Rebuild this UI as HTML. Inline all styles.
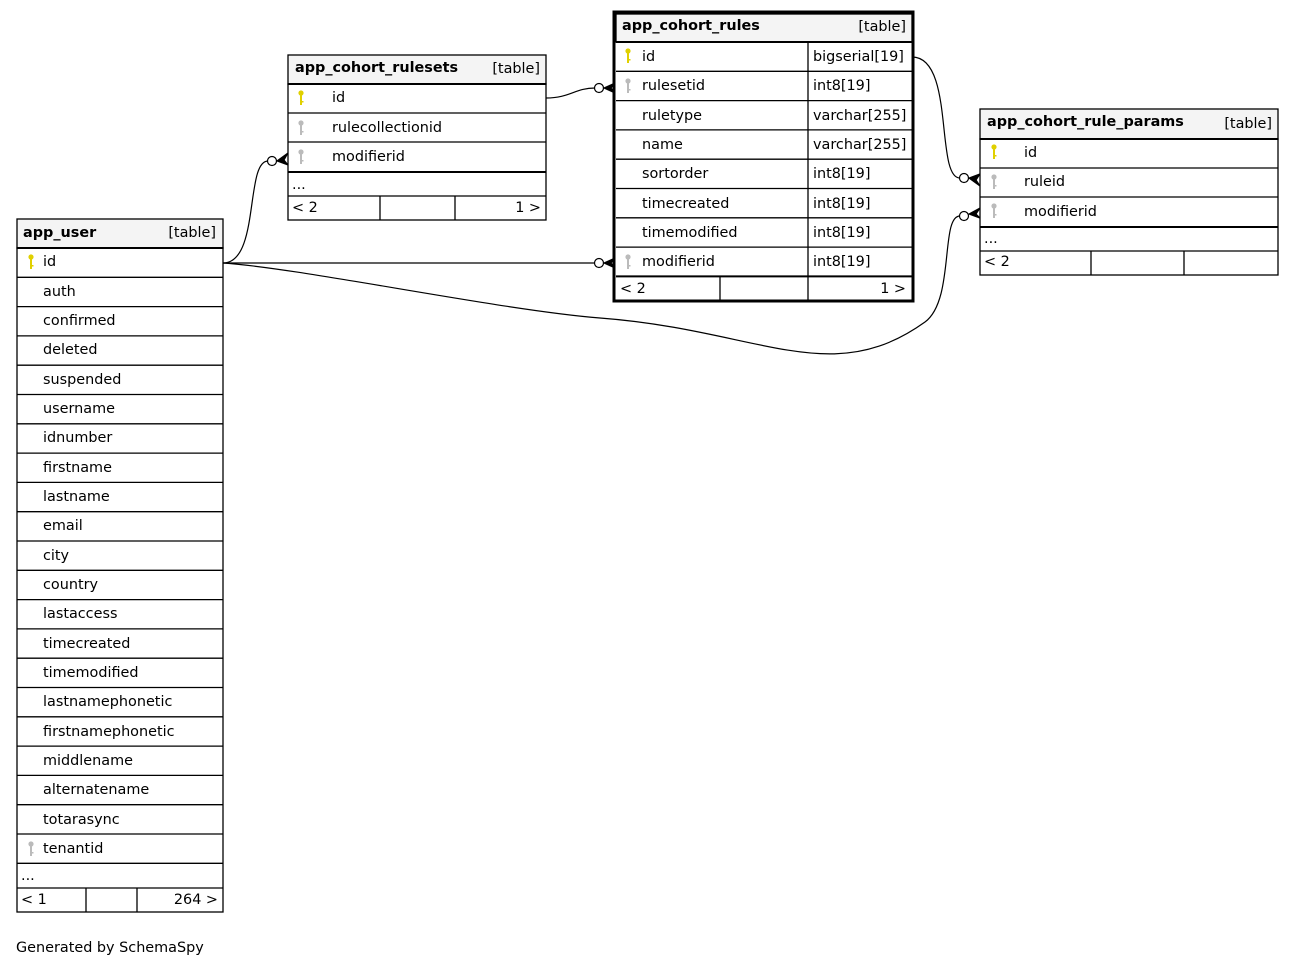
<!DOCTYPE html>
<html><head><meta charset="utf-8"><style>
html,body{margin:0;padding:0;background:#fff;}
svg{display:block;font-family:"DejaVu Sans","Liberation Sans",sans-serif;font-size:14.4px;}
.b{font-weight:bold;}
</style></head><body>
<svg width="1295" height="967" viewBox="0 0 1295 967" xmlns="http://www.w3.org/2000/svg">
<defs>
<g id="pk"><circle cx="0" cy="-3" r="2.6" fill="#e0d000"/><rect x="-1" y="-1" width="2" height="10" fill="#e0d000"/><rect x="0" y="5" width="2.5" height="1.5" fill="#e0d000"/></g>
<g id="fk"><circle cx="0" cy="-3" r="2.6" fill="#bbb"/><rect x="-1" y="-1" width="2" height="10" fill="#bbb"/><rect x="0" y="5" width="2.5" height="1.5" fill="#bbb"/></g>
</defs>
<g fill="none" stroke="#000" stroke-width="1.2">
<path d="M223,263 C260,263 245,161 268,161"/>
<path d="M546,98 C570,98 575,88 595,88"/>
<path d="M223,263 L595,263"/>
<path d="M223,263 C300,268 500,310 600,318 C760,330 830,390 925,322 C955,300 940,216 960,216"/>
<path d="M912,57 C955,57 935,178 960,178"/>
</g>
<g fill="#fff" stroke="#000" stroke-width="1.2">
<circle cx="272" cy="161" r="4.5"/><circle cx="599" cy="88" r="4.5"/><circle cx="599" cy="263" r="4.5"/><circle cx="964" cy="178" r="4.5"/><circle cx="964" cy="216" r="4.5"/>
</g>
<g fill="#000" stroke="#000" stroke-width="1.2">
<path d="M288,153 L277,161 L288,165 L284,160 Z"/>
<path d="M615,83 L604,88 L615,93 L611,88 Z"/>
<path d="M615,258 L604,263 L615,268 L611,263 Z"/>
<path d="M980,174 L969,178 L980,186 L976,180 Z"/>
<path d="M980,208 L969,214 L980,218 L976,214 Z"/>
</g>

<!-- app_user -->
<g stroke="#000" stroke-width="1.3">
<rect x="17" y="219" width="206" height="29" fill="#f4f4f4"/>
<rect x="17" y="248" width="206" height="664" fill="#fff"/>
<path d="M17,277.3H223M17,306.6H223M17,335.9H223M17,365.2H223M17,394.5H223M17,423.8H223M17,453.1H223M17,482.4H223M17,511.7H223M17,541H223M17,570.3H223M17,599.6H223M17,628.9H223M17,658.2H223M17,687.5H223M17,716.8H223M17,746.1H223M17,775.4H223M17,804.7H223M17,834H223M17,863.3H223M17,888H223M86,888V912M137,888V912"/>
<path d="M17,248H223" stroke-width="2"/>
</g>
<text x="23" y="237" class="b">app_user</text><text x="216" y="237" text-anchor="end">[table]</text>
<use href="#pk" x="31" y="260"/><text x="43" y="266">id</text>
<text x="43" y="296">auth</text><text x="43" y="325">confirmed</text><text x="43" y="354">deleted</text><text x="43" y="384">suspended</text><text x="43" y="413">username</text><text x="43" y="442">idnumber</text><text x="43" y="472">firstname</text><text x="43" y="501">lastname</text><text x="43" y="530">email</text><text x="43" y="560">city</text><text x="43" y="589">country</text><text x="43" y="618">lastaccess</text><text x="43" y="648">timecreated</text><text x="43" y="677">timemodified</text><text x="43" y="706">lastnamephonetic</text><text x="43" y="736">firstnamephonetic</text><text x="43" y="765">middlename</text><text x="43" y="794">alternatename</text><text x="43" y="824">totarasync</text>
<use href="#fk" x="31" y="847"/><text x="43" y="853">tenantid</text>
<text x="21" y="880">...</text><text x="21" y="904">&lt; 1</text><text x="218" y="904" text-anchor="end">264 &gt;</text>

<!-- rulesets -->
<g stroke="#000" stroke-width="1.3">
<rect x="288" y="55" width="258" height="29" fill="#f4f4f4"/>
<rect x="288" y="84" width="258" height="136" fill="#fff"/>
<path d="M288,113H546M288,142H546M288,196H546M380,196V220M455,196V220"/>
<path d="M288,84H546M288,172H546" stroke-width="2"/>
</g>
<text x="295" y="72" class="b">app_cohort_rulesets</text><text x="540" y="73" text-anchor="end">[table]</text>
<use href="#pk" x="301" y="96"/><text x="332" y="102">id</text>
<use href="#fk" x="301" y="126"/><text x="332" y="132">rulecollectionid</text>
<use href="#fk" x="301" y="155"/><text x="332" y="161">modifierid</text>
<text x="292" y="189">...</text><text x="292" y="212">&lt; 2</text><text x="541" y="212" text-anchor="end">1 &gt;</text>

<!-- rules -->
<rect x="614" y="12" width="299" height="289" fill="#fff" stroke="#000" stroke-width="3"/>
<g stroke="#000" stroke-width="1.3">
<rect x="616" y="14" width="296" height="28" fill="#f4f4f4"/>
<path d="M616,71.3H912M616,100.6H912M616,129.9H912M616,159.2H912M616,188.5H912M616,217.8H912M616,247.1H912M808,42V276M720,276V300M808,276V300"/>
<path d="M616,42H912M616,276.4H912" stroke-width="2"/>
</g>
<text x="622" y="30" class="b">app_cohort_rules</text><text x="906" y="31" text-anchor="end">[table]</text>
<use href="#pk" x="628" y="54"/><text x="642" y="61">id</text><text x="813" y="61">bigserial[19]</text>
<use href="#fk" x="628" y="84"/><text x="642" y="90">rulesetid</text><text x="813" y="90">int8[19]</text>
<text x="642" y="120">ruletype</text><text x="813" y="120">varchar[255]</text>
<text x="642" y="149">name</text><text x="813" y="149">varchar[255]</text>
<text x="642" y="178">sortorder</text><text x="813" y="178">int8[19]</text>
<text x="642" y="208">timecreated</text><text x="813" y="208">int8[19]</text>
<text x="642" y="237">timemodified</text><text x="813" y="237">int8[19]</text>
<use href="#fk" x="628" y="260"/><text x="642" y="266">modifierid</text><text x="813" y="266">int8[19]</text>
<text x="620" y="293">&lt; 2</text><text x="906" y="293" text-anchor="end">1 &gt;</text>

<!-- params -->
<g stroke="#000" stroke-width="1.3">
<rect x="980" y="109" width="298" height="30" fill="#f4f4f4"/>
<rect x="980" y="139" width="298" height="136" fill="#fff"/>
<path d="M980,168H1278M980,197H1278M980,251H1278M1091,251V275M1184,251V275"/>
<path d="M980,139H1278M980,227H1278" stroke-width="2"/>
</g>
<text x="987" y="126" class="b">app_cohort_rule_params</text><text x="1272" y="128" text-anchor="end">[table]</text>
<use href="#pk" x="994" y="150"/><text x="1024" y="157">id</text>
<use href="#fk" x="994" y="180"/><text x="1024" y="186">ruleid</text>
<use href="#fk" x="994" y="209"/><text x="1024" y="216">modifierid</text>
<text x="984" y="243">...</text><text x="984" y="266">&lt; 2</text>

<text x="16" y="952">Generated by SchemaSpy</text>
</svg>
</body></html>
